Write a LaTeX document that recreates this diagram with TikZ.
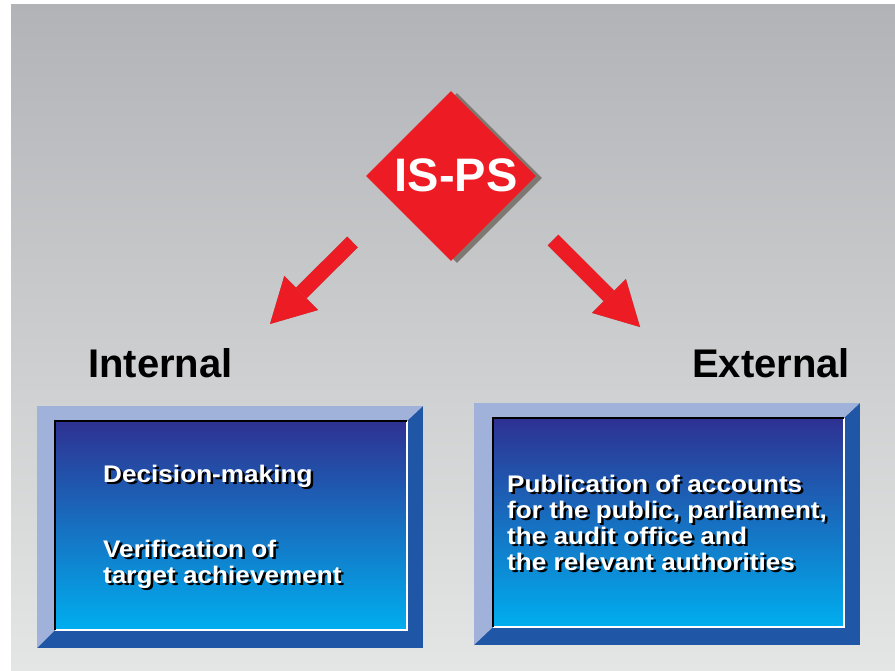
\documentclass[tikz,border=0pt]{standalone}
\usepackage{fontspec}
\usepackage{graphicx}
\setmainfont{Liberation Sans}
\usetikzlibrary{shapes.geometric,arrows.meta,calc}
\definecolor{bgtop}{RGB}{178,179,183}
\definecolor{bgbot}{RGB}{228,230,229}
\definecolor{isred}{RGB}{237,28,36}
\definecolor{shgray}{RGB}{125,121,114}
\definecolor{bevlight}{RGB}{160,178,218}
\definecolor{bevdark}{RGB}{31,86,165}
\definecolor{gtop}{RGB}{46,49,146}
\definecolor{gmid}{RGB}{10,90,168}
\definecolor{gbot}{RGB}{0,174,239}
\newcommand\shline[3]{%
  \node[boxtxt,text=black,xshift=2.5pt,yshift=-2.5pt] (#1sh) at (#2) {\scalebox{1.09}[1]{#3}};
  \node[boxtxt] (#1) at (#2) {\scalebox{1.09}[1]{#3}};}
\tikzset{
  bigarrow/.style={line width=15pt,-{Triangle[width=48pt,length=44pt,line width=0pt]}},
  isdiamond/.style={diamond,minimum size=170pt,inner sep=0pt,draw=none},
  boxtxt/.style={anchor=base west,inner sep=0pt,text=white,font=\bfseries\fontsize{24}{26}\selectfont},
  headtxt/.style={anchor=base west,inner sep=0pt,text=black,font=\bfseries\fontsize{40}{40}\selectfont},
}
\begin{document}
\begin{tikzpicture}[x=1pt,y=-1pt]
\useasboundingbox (0,0) rectangle (895,670);
\shade[top color=bgtop,bottom color=bgbot] (11,4) rectangle (895,670);

% diamond
\node[isdiamond,fill=shgray,xshift=6pt,yshift=-2pt] (ispssh) at (451,176) {};
\node[isdiamond,fill=isred] (isps) at (451,176) {};
\node[text=white,inner sep=0pt,anchor=base,font=\bfseries\fontsize{47}{47}\selectfont] (ispstext) at (456,191) {IS-PS};

% arrows
\coordinate (la0) at (352.5,242);
\coordinate (la1) at (270,324);
\coordinate (ra0) at (553,240);
\coordinate (ra1) at (640,327);
\draw[bigarrow,shgray,xshift=3pt,yshift=-2pt] (la0) -- (la1);
\draw[bigarrow,shgray,xshift=3pt,yshift=-2pt] (ra0) -- (ra1);
\draw[bigarrow,isred] (la0) -- (la1);
\draw[bigarrow,isred] (ra0) -- (ra1);

% headings
\node[headtxt] (internal) at (88,377) {Internal};
\node[headtxt] (external) at (692,377) {External};

% left box
\coordinate (lo1) at (37,406);
\coordinate (lo2) at (423,648);
\coordinate (li1) at (55,421);
\coordinate (li2) at (407,630);
\fill[bevdark] (lo1) rectangle (lo2);
\fill[bevlight] (lo1) -- (lo1 -| lo2) -- (li1 -| li2) -- (li1) -- (li1 |- li2) -- (lo1 |- lo2) -- cycle;
\shade[top color=gtop,middle color=gmid,bottom color=gbot] (li1) rectangle (li2);
\draw[white,line width=1.2pt] (li1 |- li2) -- (li2) -- (li2 |- li1);
\draw[black,line width=1.2pt] (li1 |- li2) -- (li1) -- (li2 |- li1);

% right box
\coordinate (ro1) at (474,403);
\coordinate (ro2) at (860,645);
\coordinate (ri1) at (493,418);
\coordinate (ri2) at (844,627);
\fill[bevdark] (ro1) rectangle (ro2);
\fill[bevlight] (ro1) -- (ro1 -| ro2) -- (ri1 -| ri2) -- (ri1) -- (ri1 |- ri2) -- (ro1 |- ro2) -- cycle;
\shade[top color=gtop,middle color=gmid,bottom color=gbot] (ri1) rectangle (ri2);
\draw[white,line width=1.2pt] (ri1 |- ri2) -- (ri2) -- (ri2 |- ri1);
\draw[black,line width=1.2pt] (ri1 |- ri2) -- (ri1) -- (ri2 |- ri1);

% box texts
\shline{dec}{103,482}{Decision-making}
\shline{verA}{103,557}{Verification of}
\shline{verB}{103,583}{target achievement}
\shline{pubA}{507,492}{Publication of accounts}
\shline{pubB}{507,518}{for the public, parliament,}
\shline{pubC}{507,544}{the audit office and}
\shline{pubD}{507,570}{the relevant authorities}
\end{tikzpicture}
\end{document}
